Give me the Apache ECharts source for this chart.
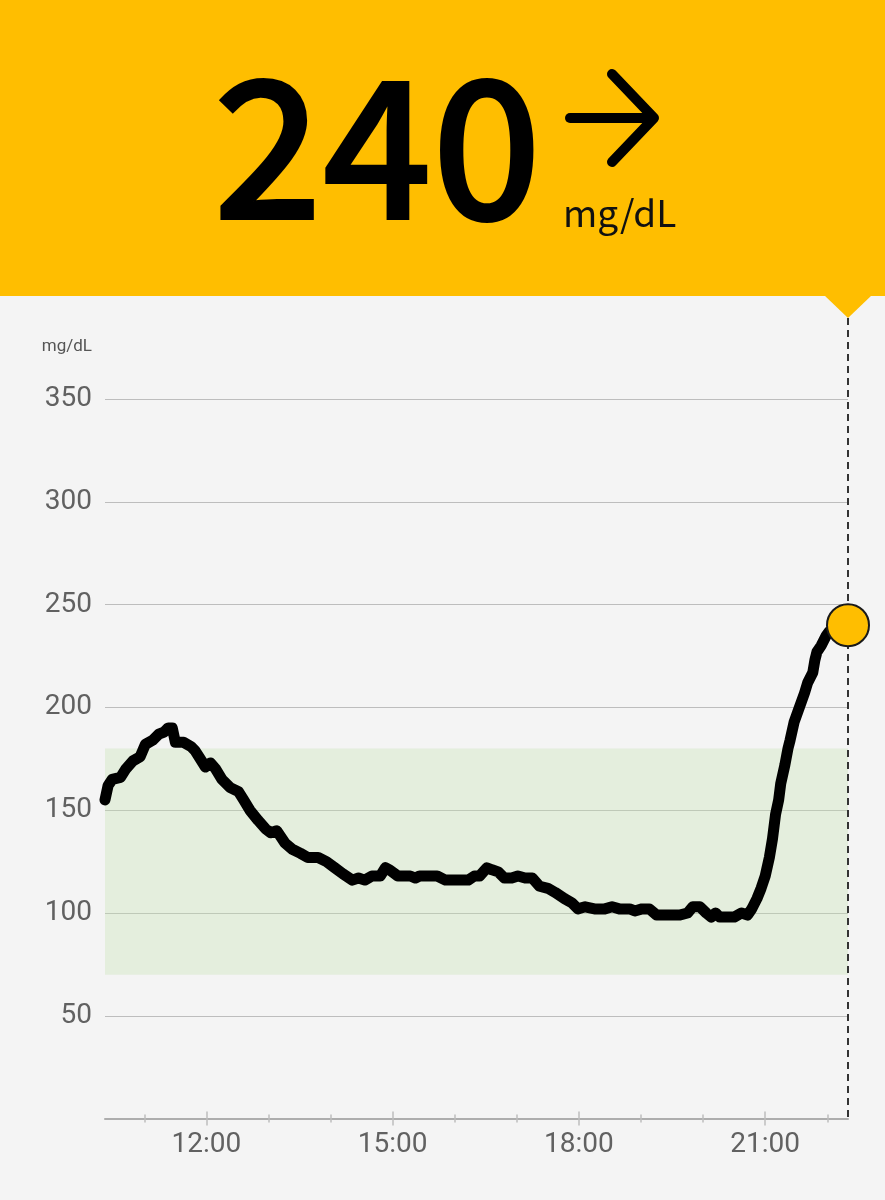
<!DOCTYPE html>
<html><head><meta charset="utf-8">
<script src="https://cdn.jsdelivr.net/npm/echarts@6/dist/echarts.min.js"></script>
<style>html,body{margin:0;padding:0;background:#f4f4f4}#c{width:885px;height:1200px}</style>
</head><body><div id="c"></div><script>
// ---- data ----
const times = ["10:22","10:25","10:29","10:37","10:42","10:49","10:56","11:01","11:08","11:14","11:19","11:23","11:27","11:30","11:38","11:45","11:49","11:54","11:59","12:04","12:09","12:15","12:23","12:31","12:36","12:42","12:50","12:57","13:02","13:08","13:16","13:23","13:31","13:38","13:48","13:56","14:04","14:12","14:21","14:27","14:33","14:40","14:48","14:53","14:57","15:05","15:17","15:22","15:26","15:43","15:51","15:58","16:13","16:19","16:24","16:31","16:36","16:42","16:48","16:55","17:01","17:08","17:15","17:22","17:30","17:37","17:46","17:53","17:59","18:06","18:15","18:25","18:32","18:39","18:49","18:54","19:01","19:08","19:15","19:23","19:37","19:45","19:50","19:57","20:03","20:08","20:12","20:16","20:30","20:37","20:43","20:47","20:52","20:56","21:00","21:04","21:07","21:10","21:13","21:15","21:19","21:22","21:24","21:28","21:33","21:38","21:41","21:46","21:48","21:50","21:54","21:59","22:02","22:10","22:20"];
const values = [155,162,165,166,170,174,176,182,184,187,188,190,190,183,183,181,179,175,171,173,170,165,161,159,155,150,145,141,139,140,134,131,129,127,127,125,122,119,116,117,116,118,118,122,121,118,118,117,118,118,116,116,116,118,118,122,121,120,117,117,118,117,117,113,112,110,107,105,102,103,102,102,103,102,102,101,102,102,99,99,99,100,103,103,100,98,100,98,98,100,99,102,107,112,118,127,136,148,155,163,172,180,184,193,200,207,212,217,223,227,230,235,237,239,240];
const currentValue = 240;
const unitLabel = "mg/dL";
const yTickValues = [50,100,150,200,250,300,350];
const xLabelHours = [12,15,18,21];
const xTickHours = [11,12,13,14,15,16,17,18,19,20,21,22];
const targetLow = 70, targetHigh = 180;
const axisStart = "10:22", axisEnd = "22:20";

// ---- helpers ----
const toMin = s => { const [h,m] = s.split(":").map(Number); return h*60+m; };
const seriesData = times.map((t,i) => [toMin(t), values[i]]);
const lastPt = seriesData[seriesData.length-1];
const xMin = toMin(axisStart), xMax = toMin(axisEnd);
const tickMins = xTickHours.map(h => h*60);
const labelMins = xLabelHours.map(h => h*60);

const YELLOW = "#FFBE00";
const chart = echarts.init(document.getElementById("c"), null, {renderer:"canvas"});

const baseX = (extra) => Object.assign({
  type: "value", min: xMin, max: xMax, position: "bottom", gridIndex: 0,
  splitLine: {show:false}, axisLine: {show:false}, axisLabel: {show:false},
  axisTick: {show:false}
}, extra);

const option = {
  backgroundColor: "#f4f4f4",
  animation: false,
  grid: {left: 105, right: 37, top: 399, bottom: 81.4},
  xAxis: [
    baseX({
      axisLine: {show:true, lineStyle:{color:"#adadad", width:2}},
      axisTick: {show:true, inside:false, length:4, customValues: tickMins, lineStyle:{color:"#bdbdbd", width:1.5}},
      axisLabel: {show:true, customValues: labelMins, margin: 12,
        formatter: v => String(Math.floor(v/60)).padStart(2,"0")+":00",
        fontFamily: "Roboto", fontSize: 28, color: "#616161"}
    }),
    baseX({axisTick: {show:true, inside:true, length:4, customValues: tickMins, lineStyle:{color:"#bdbdbd", width:1.5}}}),
    baseX({axisTick: {show:true, inside:false, length:7, customValues: labelMins, lineStyle:{color:"#bdbdbd", width:1.5}}}),
    baseX({axisTick: {show:true, inside:true, length:7, customValues: labelMins, lineStyle:{color:"#bdbdbd", width:1.5}}})
  ],
  yAxis: {
    type: "value", min: 0, max: 350, interval: 50,
    name: unitLabel, nameLocation: "end", nameGap: 44,
    nameTextStyle: {fontFamily:"Roboto", fontSize:17, color:"#555", align:"right", padding:[0,13,0,0]},
    axisLine: {show:false}, axisTick: {show:false},
    axisLabel: {margin: 13, fontFamily:"Roboto", fontSize:28, color:"#616161",
      formatter: v => yTickValues.includes(v) ? String(v) : ""},
    splitLine: {show:true, lineStyle:{color:"#bdbdbd", width:1.2}}
  },
  series: [
    {
      type: "line", data: seriesData, showSymbol: false, z: 5,
      lineStyle: {color:"#000", width: 11, join: "round", cap: "round"},
      markArea: {silent:true, itemStyle:{color:"rgba(197,227,174,0.32)"},
        data: [[{yAxis: targetLow}, {yAxis: targetHigh}]]}
    },
    {
      type: "scatter", data: [lastPt], symbol: "circle", symbolSize: 42, z: 10,
      itemStyle: {color: YELLOW, opacity: 1, borderColor: "#1a1a1a", borderWidth: 2}
    }
  ]
};
chart.setOption(option);

const p = chart.convertToPixel({seriesIndex:0}, lastPt);
const yBottom = chart.convertToPixel({yAxisIndex:0}, 0);
const HEADER_H = 296;

chart.setOption({
  graphic: [
    {type:"rect", z:50, shape:{x:0, y:0, width:885, height:HEADER_H}, style:{fill:YELLOW}},
    {type:"polygon", z:50, shape:{points:[[p[0]-24,HEADER_H-1],[p[0]+24,HEADER_H-1],[p[0],HEADER_H+22]]}, style:{fill:YELLOW}},
    {type:"line", z:1, shape:{x1:p[0], y1:HEADER_H+22, x2:p[0], y2:yBottom}, style:{stroke:"#333", lineWidth:2, lineDash:[7,5]}},
    {type:"text", z:60, x:213, y:146, style:{text:String(currentValue), font:"500 192px 'Noto Sans CJK JP'", fill:"#000", stroke:"#000", lineWidth:2, lineJoin:"round", align:"left", verticalAlign:"middle"}},
    {type:"polyline", z:60, shape:{points:[[570,118],[652,118]]}, style:{stroke:"#000", lineWidth:10, lineCap:"round", fill:null}},
    {type:"polyline", z:60, shape:{points:[[612,74],[654,118],[612,162]]}, style:{stroke:"#000", lineWidth:10, lineCap:"round", lineJoin:"round", fill:null}},
    {type:"text", z:60, x:563, y:213, style:{text:unitLabel, font:"400 37px 'Noto Sans CJK JP'", fill:"#111", align:"left", verticalAlign:"middle"}}
  ]
});
</script></body></html>
